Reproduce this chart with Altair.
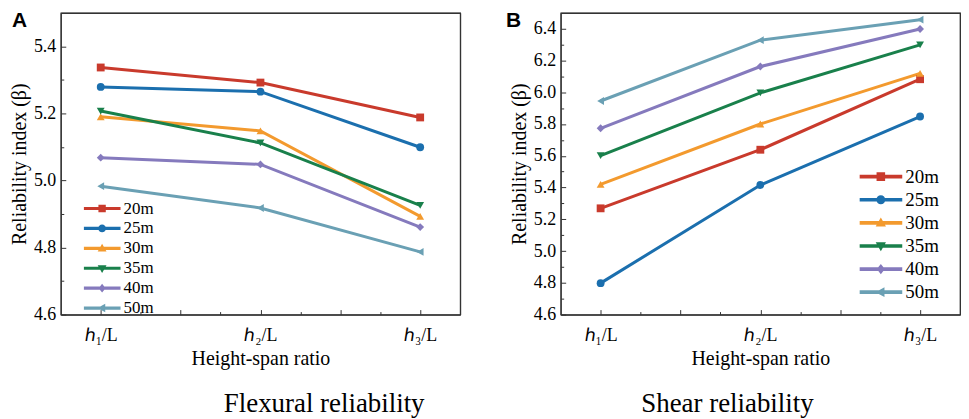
import altair as alt
import pandas as pd

SERIF = "Liberation Serif"
SANS = "Liberation Sans"

series = ["20m", "25m", "30m", "35m", "40m", "50m"]
colors = ["#c93a2c", "#1b6fae", "#f39a2e", "#19804b", "#857abd", "#6aa0b4"]
marker_shapes = ["square", "circle", "triangle-up", "triangle-down", "diamond", "triangle-left"]

ratios = [1, 2, 3]
ratio_labels = ["ℎ₁/L", "ℎ₂/L", "ℎ₃/L"]

# Flexural reliability (panel A)
flex_20m = [5.337, 5.292, 5.188]
flex_25m = [5.279, 5.265, 5.099]
flex_30m = [5.190, 5.148, 4.893]
flex_35m = [5.207, 5.112, 4.926]
flex_40m = [5.068, 5.048, 4.861]
flex_50m = [4.983, 4.918, 4.787]

# Shear reliability (panel B)
shear_20m = [5.269, 5.638, 6.082]
shear_25m = [4.798, 5.416, 5.847]
shear_30m = [5.420, 5.800, 6.119]
shear_35m = [5.601, 5.996, 6.298]
shear_40m = [5.773, 6.162, 6.398]
shear_50m = [5.945, 6.328, 6.457]

flex_values = [flex_20m, flex_25m, flex_30m, flex_35m, flex_40m, flex_50m]
shear_values = [shear_20m, shear_25m, shear_30m, shear_35m, shear_40m, shear_50m]


def make_df(values):
    rows = []
    for s, vals in zip(series, values):
        for r, v in zip(ratios, vals):
            rows.append({"series": s, "xi": r, "beta": v})
    return pd.DataFrame(rows)


# legend symbols: a horizontal line segment with the series marker in its centre
STUB = "M-1,-0.085H1V0.085H-1Z"
MARKER_PATHS = {
    "square": "M-0.2,-0.2H0.2V0.2H-0.2Z",
    "circle": "M-0.21,0A0.21,0.21 0 1 1 0.21,0A0.21,0.21 0 1 1 -0.21,0Z",
    "triangle-up": "M0,-0.25L0.24,0.17L-0.24,0.17Z",
    "triangle-down": "M-0.24,-0.17L0.24,-0.17L0,0.25Z",
    "diamond": "M0,-0.24L0.19,0L0,0.24L-0.19,0Z",
    "triangle-left": "M-0.25,0L0.17,-0.23L0.17,0.23Z",
}
legend_paths = [STUB + MARKER_PATHS[m] for m in marker_shapes]

lab_expr = " : ".join(
    f"datum.value == {r} ? '{t}'" for r, t in zip(ratios, ratio_labels)
) + " : ''"

W = 401
H = 303
FRAME = "#333333"


def frame_axis(orient):
    return alt.Axis(
        orient=orient, domain=True, domainColor=FRAME, domainWidth=1.2,
        ticks=False, labels=False, grid=False, title=None, offset=0,
    )


def panel(values, ydom, major, minor, letter, letter_x, caption, cap_dx, leg):
    df = make_df(values)
    xs = alt.Scale(domain=[0.75, 3.25], nice=False, zero=False)
    ys = alt.Scale(domain=ydom, nice=False, zero=False)
    cs = alt.Scale(domain=series, range=colors)

    x_major = alt.Axis(
        orient="bottom", values=[1, 1.5, 2, 2.5, 3], labelExpr=lab_expr,
        tickSize=5, offset=-5, domain=False, grid=False, labelAngle=0,
        title="Height-span ratio", labelPadding=12, titlePadding=4,
        labelFont=SERIF, labelFontSize=18, titleFont=SERIF, titleFontSize=20,
        titleFontWeight="normal", labelColor="black", titleColor="black",
        tickColor=FRAME, tickWidth=1,
    )
    y_major = alt.Axis(
        orient="left", values=major, format=".1f",
        tickSize=5, offset=-5, domain=False, grid=False,
        title="Reliability index (β)", labelPadding=5, titlePadding=4,
        labelFont=SERIF, labelFontSize=18, titleFont=SERIF, titleFontSize=20,
        titleFontWeight="normal", labelColor="black", titleColor="black",
        tickColor=FRAME, tickWidth=1,
    )
    x_minor = alt.Axis(
        orient="bottom", values=[1.25, 1.75, 2.25, 2.75], tickSize=3, offset=-3,
        labels=False, domain=False, grid=False, title=None, tickColor=FRAME,
    )
    y_minor = alt.Axis(
        orient="left", values=minor, tickSize=3, offset=-3,
        labels=False, domain=False, grid=False, title=None, tickColor=FRAME,
    )

    base = alt.Chart(df)

    lg = alt.Legend(
        orient="none", legendX=leg["x"], legendY=leg["y"], title=None,
        labelFont=SERIF, labelFontSize=leg["fs"], labelColor="black",
        symbolSize=leg["w"] ** 2, clipHeight=leg["ch"], rowPadding=leg["rp"],
        labelOffset=3, padding=0, symbolStrokeWidth=0, symbolOffset=0,
        symbolOpacity=1,
    )
    # legend layer (no visible marks of its own): also carries the minor ticks
    legend_layer = base.transform_filter("false").mark_point(
        filled=True, opacity=1, strokeWidth=0
    ).encode(
        x=alt.X("xi:Q", scale=xs, axis=x_minor),
        y=alt.Y("beta:Q", scale=ys, axis=y_minor),
        color=alt.Color("series:N", scale=cs, legend=lg),
        shape=alt.Shape("series:N", scale=alt.Scale(domain=series, range=legend_paths), legend=lg),
    )
    layers = [legend_layer]

    # frame: domain lines on all four sides
    for xo, yo in (("bottom", "left"), ("top", "right")):
        layers.append(
            base.transform_filter("false").mark_point(opacity=0).encode(
                x=alt.X("xi:Q", axis=frame_axis(xo)),
                y=alt.Y("beta:Q", axis=frame_axis(yo)),
            )
        )

    line = base.mark_line(strokeWidth=3).encode(
        x=alt.X("xi:Q", axis=x_major),
        y=alt.Y("beta:Q", axis=y_major),
        color=alt.Color("series:N"),
        detail="series:N",
    )
    layers.append(line)
    for s, shp in zip(series, marker_shapes):
        pts = base.transform_filter(alt.datum.series == s).mark_point(
            shape=shp, filled=True, size=62, opacity=1, strokeWidth=0
        ).encode(
            x=alt.X("xi:Q", axis=None),
            y=alt.Y("beta:Q", axis=None),
            color=alt.Color("series:N"),
        )
        layers.append(pts)

    letter_layer = alt.Chart(pd.DataFrame({"t": [letter]})).mark_text(
        font=SANS, fontWeight="bold", fontSize=21, align="left", baseline="top", color="black"
    ).encode(text="t:N", x=alt.value(letter_x), y=alt.value(-3))
    layers.append(letter_layer)

    return alt.layer(*layers).resolve_scale(
        x="shared", y="shared", color="shared", shape="shared"
    ).resolve_axis(x="independent", y="independent").properties(
        width=W, height=H,
        title=alt.TitleParams(
            text=caption, orient="bottom", anchor="middle", frame="group",
            dx=cap_dx, offset=23, font=SERIF, fontSize=27, fontWeight="normal", color="black",
        ),
    )


chartA = panel(
    flex_values, [4.6, 5.5],
    [4.6, 4.8, 5.0, 5.2, 5.4], [4.7, 4.9, 5.1, 5.3],
    "A", -49, "Flexural reliability", 64,
    {"x": 23, "y": 188, "fs": 17, "w": 37, "ch": 17, "rp": 2},
)
chartB = panel(
    shear_values, [4.6, 6.5],
    [4.6, 4.8, 5.0, 5.2, 5.4, 5.6, 5.8, 6.0, 6.2, 6.4],
    [4.7, 4.9, 5.1, 5.3, 5.5, 5.7, 5.9, 6.1, 6.3],
    "B", -55, "Shear reliability", -33,
    {"x": 300, "y": 155, "fs": 19, "w": 43, "ch": 19, "rp": 3.2},
)

chart = alt.hconcat(chartA, chartB, spacing=44).resolve_scale(
    color="independent", shape="independent"
).properties(padding=0).configure(font=SERIF).configure_view(
    stroke=FRAME, strokeWidth=1.2
)

chart.save("out.html", embed_options={"renderer": "svg", "actions": False})
